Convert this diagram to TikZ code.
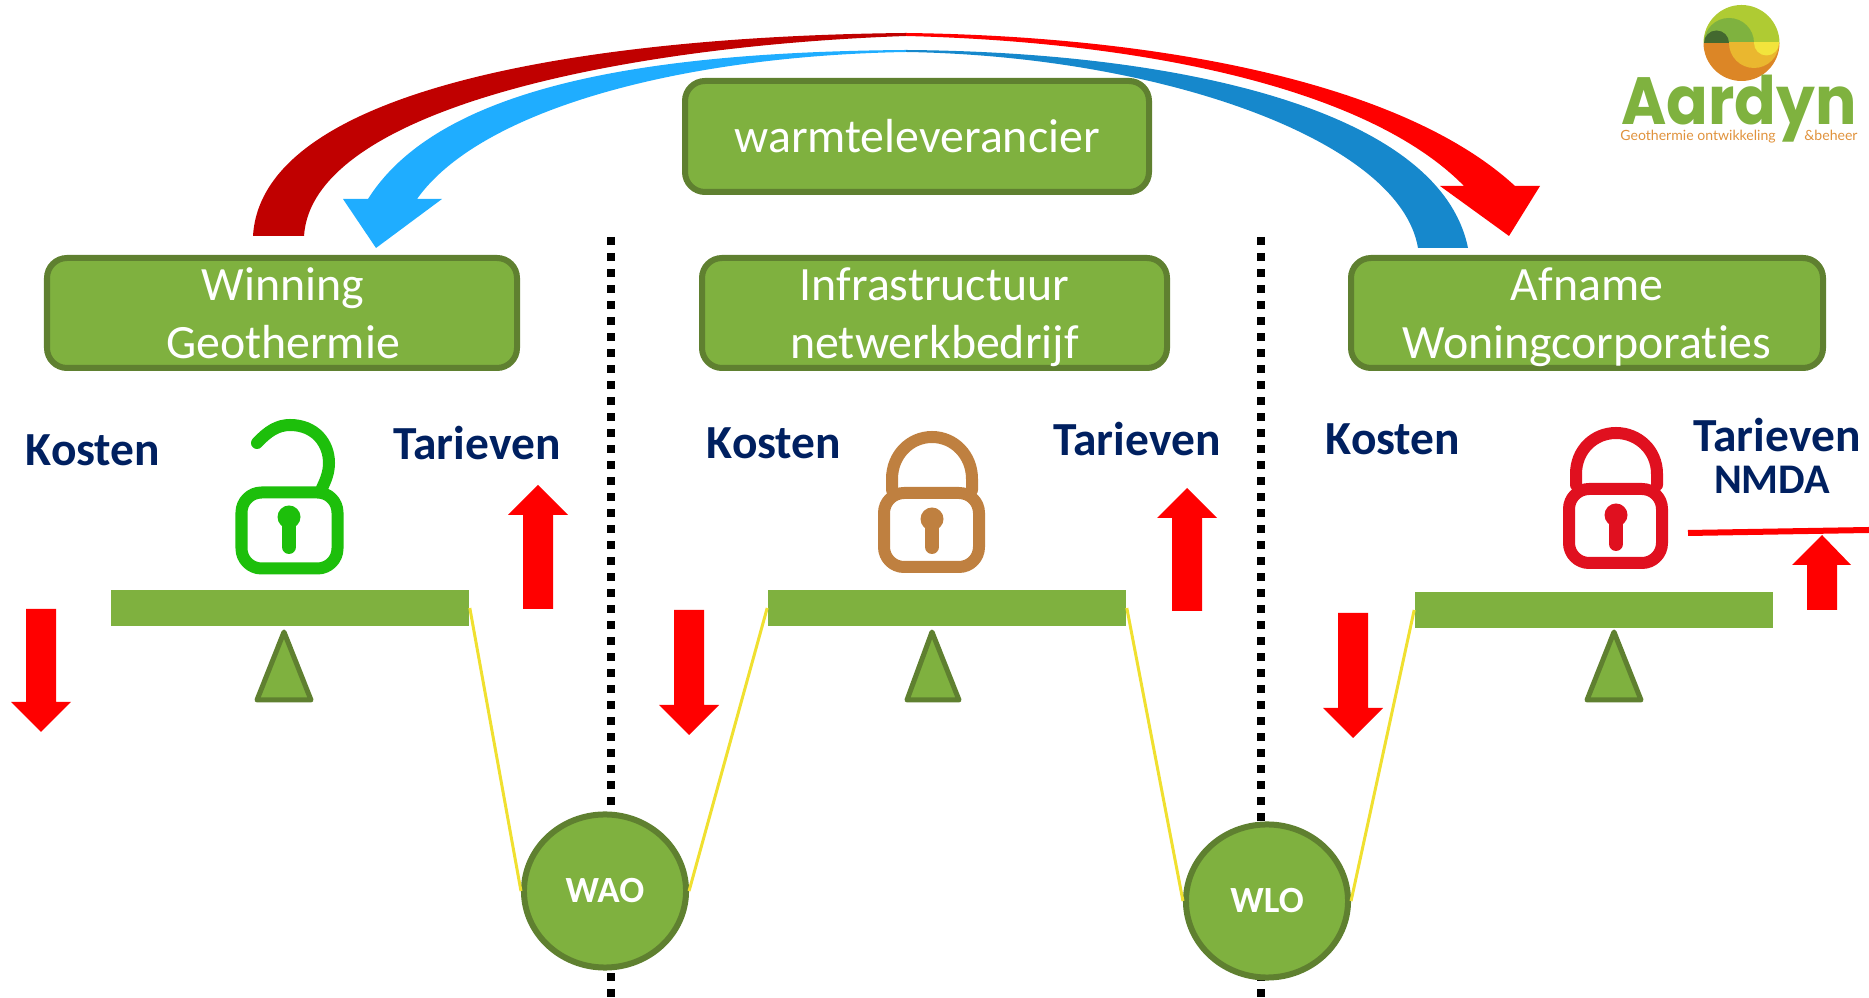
\documentclass[tikz,border=0pt]{standalone}
\usepackage{fontspec}
\setmainfont{Carlito}[Ligatures=NoCommon]
\newfontfamily\logofont{Poppins}
\newfontfamily\sublogofont{Lato}
\usetikzlibrary{shapes.geometric}
\definecolor{boxGreen}{HTML}{7FB13F}
\definecolor{boxBorder}{HTML}{5F8030}
\definecolor{navyText}{HTML}{002060}
\definecolor{darkRed}{HTML}{C00000}
\definecolor{lightBlue}{HTML}{1FADFF}
\definecolor{darkBlue}{HTML}{1688CC}
\definecolor{scaleYellow}{HTML}{F0E030}
\definecolor{lockGreen}{HTML}{1DBF0B}
\definecolor{lockBrown}{HTML}{BF8040}
\definecolor{lockRed}{HTML}{E0101F}
\definecolor{logoLight}{HTML}{AFCB33}
\definecolor{logoMid}{HTML}{7FB23F}
\definecolor{logoDark}{HTML}{43692F}
\definecolor{logoOrange}{HTML}{DC8626}
\definecolor{logoGold}{HTML}{EAB72F}
\definecolor{logoYellow}{HTML}{F2E43C}
\definecolor{logoText}{HTML}{E0923C}

\begin{document}
\begin{tikzpicture}[x=0.01cm, y=-0.01cm,
  boxStyle/.style={rounded corners=0.2cm, draw=boxBorder, line width=0.06cm, fill=boxGreen},
  boxText/.style={text=white, align=center, font=\fontsize{13.6}{16.5}\selectfont},
  costText/.style={text=navyText, align=center, font=\fontsize{13.5}{15}\selectfont\bfseries},
  beamStyle/.style={fill=boxGreen, inner sep=0, minimum width=3.58cm, minimum height=0.36cm},
  triStyle/.style={draw=boxBorder, line width=0.05cm, line join=round, fill=boxGreen},
  wasteStyle/.style={ellipse, draw=boxBorder, line width=0.06cm, fill=boxGreen, inner sep=0, minimum width=1.62cm, minimum height=1.53cm, text=white, font=\fontsize{10.5}{12}\selectfont\bfseries},
  dividerStyle/.style={black, line width=0.085cm, dash pattern=on 0.08cm off 0.08cm},
  hangStyle/.style={scaleYellow, line width=0.03cm},
  lockStyle/.style={line width=0.12cm, line cap=round, line join=round},
  logoSmall/.style={text=logoText, inner sep=0, anchor=base, font=\fontsize{4}{5}\sublogofont}
]
\useasboundingbox (0,0) rectangle (1869,998);

% dotted dividers
\coordinate (dividerATop) at (611,237);
\coordinate (dividerABottom) at (611,998);
\coordinate (dividerBTop) at (1261,237);
\coordinate (dividerBBottom) at (1261,998);
\draw [dividerStyle] (dividerATop) -- (dividerABottom);
\draw [dividerStyle] (dividerBTop) -- (dividerBBottom);

% curved arrows
\fill [lightBlue] (906,50) .. controls (650,52) and (440,85) .. (368,199) -- (343,199) -- (376,248) -- (442,199) -- (417,199) .. controls (480,110) and (680,56) .. (906,52) -- cycle;
\fill [darkBlue] (906,50) .. controls (1180,52) and (1440,110) .. (1468,248) -- (1418,248) .. controls (1400,140) and (1160,56) .. (906,52) -- cycle;
\fill [darkRed] (906,33) .. controls (600,36) and (262,85) .. (253,236) -- (304,236) .. controls (312,110) and (620,46) .. (906,36) -- cycle;
\fill [red] (906,33) .. controls (1150,36) and (1400,80) .. (1515,186) -- (1540,186) -- (1509,236) -- (1440,186) -- (1464,186) .. controls (1370,90) and (1150,42) .. (906,36) -- cycle;

% boxes
\draw [boxStyle] (685,81) rectangle (1149,192) node [midway, boxText] (warmte) {warmteleverancier};
\draw [boxStyle] (47,258) rectangle (517,368) node [midway, boxText, xshift=0.01cm, yshift=-0.005cm] (winning) {Winning\\Geothermie};
\draw [boxStyle] (702,258) rectangle (1167,368) node [midway, boxText, yshift=-0.045cm] (infra) {Infrastructuur\\netwerkbedrijf};
\draw [boxStyle] (1351,258) rectangle (1823,368) node [midway, boxText, yshift=-0.045cm] (afname) {Afname\\Woningcorporaties};

% labels
\node [costText] (kostenA) at (93,450) {Kosten};
\node [costText] (tarievenA) at (477,443) {Tarieven};
\node [costText] (kostenB) at (774,443) {Kosten};
\node [costText] (tarievenB) at (1137,439) {Tarieven};
\node [costText] (kostenC) at (1393,439) {Kosten};
\node [costText] (tarievenC) at (1777,435) {Tarieven};
\node [costText, font=\fontsize{12}{14}\selectfont\bfseries] (nmda) at (1772,480) {NMDA};

% scales
\node [beamStyle] (beamA) at (290,608) {};
\node [beamStyle] (beamB) at (947,608) {};
\node [beamStyle] (beamC) at (1594,610) {};
\draw [triStyle] (284,632) -- (311,700) -- (257,700) -- cycle;
\draw [triStyle] (932,632) -- (959,700) -- (907,700) -- cycle;
\draw [triStyle] (1614,632) -- (1641,700) -- (1587,700) -- cycle;

% WAO and WLO
\node [wasteStyle] (wao) at (605,891) {WAO};
\node [wasteStyle] (wlo) at (1267,901) {WLO};
\draw [hangStyle] (beamA.east) -- (wao.west);
\draw [hangStyle] (wao.east) -- (beamB.west);
\draw [hangStyle] (beamB.east) -- (wlo.west);
\draw [hangStyle] (wlo.east) -- (beamC.west);

% red block arrows
\fill [red] (538,485) -- (568,515) -- (553,515) -- (553,609) -- (523,609) -- (523,515) -- (508,515) -- cycle;
\fill [red] (1187,488) -- (1217,518) -- (1202,518) -- (1202,611) -- (1172,611) -- (1172,518) -- (1157,518) -- cycle;
\fill [red] (1822,535) -- (1851,565) -- (1837,565) -- (1837,610) -- (1807,610) -- (1807,565) -- (1792,565) -- cycle;
\fill [red] (41,732) -- (11,702) -- (26,702) -- (26,609) -- (56,609) -- (56,702) -- (71,702) -- cycle;
\fill [red] (689,735) -- (659,705) -- (674,705) -- (674,610) -- (704,610) -- (704,705) -- (719,705) -- cycle;
\fill [red] (1353,738) -- (1323,708) -- (1338,708) -- (1338,613) -- (1368,613) -- (1368,708) -- (1383,708) -- cycle;
\draw [red, line width=0.06cm] (1688,533) -- (1869,530);

% open lock
\draw [lockStyle, lockGreen, rounded corners=0.2cm] (241.5,492.5) rectangle (337.5,568.5);
\draw [lockStyle, lockGreen] (257,443) .. controls (268,431) and (278,425) .. (290,425) .. controls (315,425) and (329,443) .. (329,463) .. controls (329,472) and (326,480) .. (322,488);
\fill [lockGreen] (289,517) circle [radius=11.5];
\draw [lockGreen, line width=0.14cm, line cap=round] (289,520) -- (289,547);

% brown lock
\draw [lockStyle, lockBrown, rounded corners=0.2cm] (884,493) rectangle (979,567);
\draw [lockStyle, lockBrown] (892,490) -- (892,479) .. controls (892,455) and (910,437) .. (932,437) .. controls (954,437) and (972,455) .. (972,479) -- (972,490);
\fill [lockBrown] (932,519) circle [radius=11.5];
\draw [lockBrown, line width=0.14cm, line cap=round] (932,522) -- (932,547);

% red lock
\draw [lockStyle, lockRed, rounded corners=0.2cm] (1569,489) rectangle (1662,563);
\draw [lockStyle, lockRed] (1576,485) -- (1576,474) .. controls (1576,450) and (1594,433) .. (1616,433) .. controls (1638,433) and (1657,450) .. (1657,474) -- (1657,485);
\fill [lockRed] (1616,515) circle [radius=11.5];
\draw [lockRed, line width=0.14cm, line cap=round] (1616,518) -- (1616,544);

% logo
\begin{scope}
\clip (1741.5,43) circle [radius=38];
\begin{scope}
\clip (1700,0) rectangle (1785,43);
\fill [logoLight] (1700,0) rectangle (1785,43);
\fill [logoMid] (1729,43) circle [radius=25];
\fill [logoDark] (1716.5,43) circle [radius=12.5];
\end{scope}
\begin{scope}
\clip (1700,43) rectangle (1785,85);
\fill [logoOrange] (1700,43) rectangle (1785,85);
\fill [logoGold] (1754,43) circle [radius=25];
\fill [logoYellow] (1766.5,43) circle [radius=12.5];
\end{scope}
\end{scope}
\node [text=logoMid, inner sep=0, anchor=base, font=\fontsize{19}{20}\logofont\bfseries] (aardyn) at (1739,125) {\scalebox{0.92}[1]{Aardyn}};
\node [logoSmall] (geothermie) at (1698,141) {Geothermie ontwikkeling};
\node [logoSmall] (beheer) at (1831,141) {\&beheer};
\end{tikzpicture}
\end{document}
